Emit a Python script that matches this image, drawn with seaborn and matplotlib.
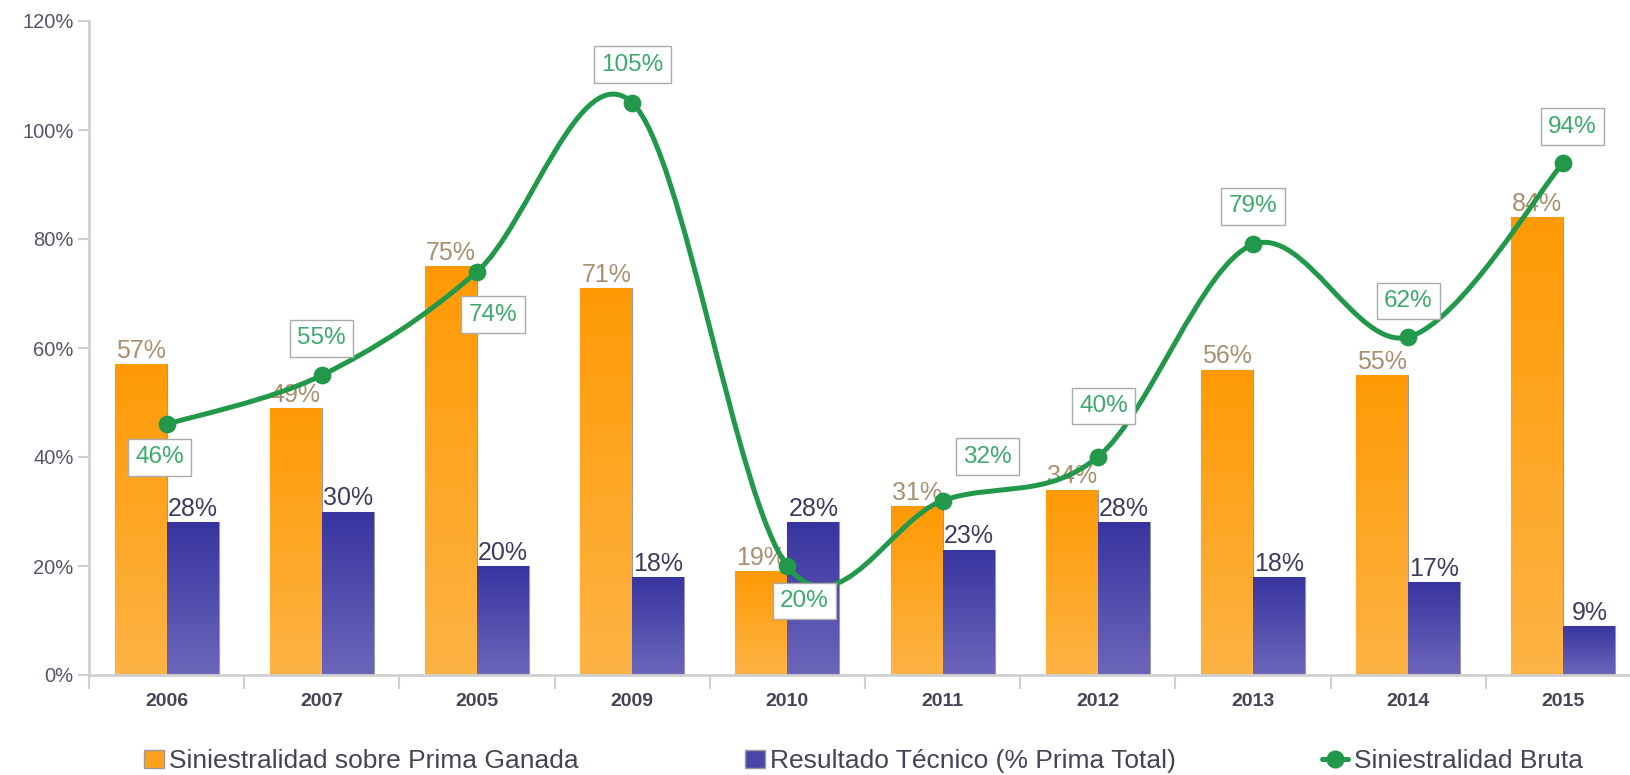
import matplotlib
matplotlib.use("Agg")
import matplotlib.pyplot as plt
from matplotlib.path import Path
from matplotlib.patches import PathPatch, Patch
from matplotlib.lines import Line2D
from matplotlib.colors import LinearSegmentedColormap
import seaborn as sns
import pandas as pd
import numpy as np

# datos
years = ["2006", "2007", "2005", "2009", "2010", "2011", "2012", "2013", "2014", "2015"]
siniestralidad_prima = [57, 49, 75, 71, 19, 31, 34, 56, 55, 84]
resultado_tecnico = [28, 30, 20, 18, 28, 23, 28, 18, 17, 9]
siniestralidad_bruta = [46, 55, 74, 105, 20, 32, 40, 79, 62, 94]

lbl_orange = "Siniestralidad sobre Prima Ganada"
lbl_navy = "Resultado Técnico (% Prima Total)"
lbl_green = "Siniestralidad Bruta"

# offsets (pixeles) de las etiquetas de la linea
green_offsets = [(-7, -33), (0, 37), (16, -43), (0, 38), (17, -35),
                 (45, 44), (6, 51), (0, 38), (0, 36), (9, 36)]

ORANGE = "#FDA11F"
NAVY = "#4A46A6"
GREEN = "#22984A"

sns.set_style("white")
plt.rcParams["font.family"] = ["Liberation Sans", "DejaVu Sans"]

df = pd.DataFrame({
    "year": years * 2,
    "value": siniestralidad_prima + resultado_tecnico,
    "serie": [lbl_orange] * len(years) + [lbl_navy] * len(years),
})

fig = plt.figure(figsize=(16.3, 7.75), dpi=100)
ax = fig.add_axes([89 / 1630, 100 / 775, 1552 / 1630, 654 / 775])

sns.barplot(data=df, x="year", y="value", hue="serie", palette=[ORANGE, NAVY],
            width=0.67, saturation=1, edgecolor="#9a9a9a", linewidth=0.8,
            legend=False, ax=ax, zorder=2)

# degradado vertical en las barras
grads = [LinearSegmentedColormap.from_list("o", ["#FDB445", "#FF9A05"]),
         LinearSegmentedColormap.from_list("n", ["#6C66BA", "#3835A0"])]
for cont, cmap in zip(ax.containers, grads):
    for bar in cont:
        x0, w, h = bar.get_x(), bar.get_width(), bar.get_height()
        im = ax.imshow(np.linspace(0, 1, 100).reshape(-1, 1), cmap=cmap, origin="lower",
                       extent=[x0, x0 + w, 0, h], aspect="auto", zorder=2.1)
        im.set_clip_path(bar)

for cont, color in zip(ax.containers, ["#A88F70", "#3C3C5E"]):
    ax.bar_label(cont, labels=[f"{v:.0f}%" for v in cont.datavalues],
                 color=color, fontsize=18, padding=1, zorder=3)

# linea suavizada (bezier tipo catmull-rom)
x = np.arange(len(years), dtype=float)
y = np.array(siniestralidad_bruta, dtype=float)
pts = np.column_stack([x, y])
ext = np.vstack([pts[0], pts, pts[-1]])
verts = [tuple(pts[0])]
codes = [Path.MOVETO]
for i in range(len(pts) - 1):
    p0, p1, p2, p3 = ext[i], ext[i + 1], ext[i + 2], ext[i + 3]
    c1 = p1 + (p2 - p0) / 6
    c2 = p2 - (p3 - p1) / 6
    verts += [tuple(c1), tuple(c2), tuple(p2)]
    codes += [Path.CURVE4] * 3
ax.add_patch(PathPatch(Path(verts, codes), facecolor="none", edgecolor=GREEN,
                       lw=3.6, zorder=4, capstyle="round"))
sns.scatterplot(x=x, y=y, color=GREEN, s=140, edgecolor=GREEN, zorder=5, ax=ax)

for xi, yi, (dx, dy) in zip(x, y, green_offsets):
    ax.annotate(f"{yi:.0f}%", (xi, yi), xytext=(dx, dy), textcoords="offset pixels",
                ha="center", va="center", fontsize=17.5, color="#3BAA6C", zorder=6,
                bbox=dict(boxstyle="square,pad=0.3", fc="white", ec="#AAAAAA", lw=1))

ax.set_xlim(-0.5, 9.5)
ax.set_ylim(0, 120)
ax.set_yticks(range(0, 121, 20))
ax.set_yticklabels([f"{v}%" for v in range(0, 121, 20)])
ax.set_xlabel("")
ax.set_ylabel("")
ax.set_xticks(np.arange(-0.5, 10, 1), minor=True)

sns.despine(ax=ax, top=True, right=True)
for s in ["left", "bottom"]:
    ax.spines[s].set_color("#D0D0D0")
    ax.spines[s].set_linewidth(2)
ax.tick_params(axis="y", labelsize=14.5, colors="#D0D0D0", labelcolor="#55556A",
               length=8, width=1.5, direction="out", left=True, pad=3)
ax.tick_params(axis="x", which="major", length=0, labelsize=14, labelcolor="#444455", pad=13)
ax.tick_params(axis="x", which="minor", length=10, width=1.5, color="#D0D0D0", bottom=True)
for t in ax.get_xticklabels():
    t.set_fontweight("bold")

# leyenda
handles = [
    (Patch(facecolor=ORANGE, edgecolor="#9a9a9a"), lbl_orange, 144),
    (Patch(facecolor=NAVY, edgecolor="#9a9a9a"), lbl_navy, 745),
    (Line2D([], [], color=GREEN, lw=3.6, marker="o", markersize=12), lbl_green, 1322),
]
for h, lab, px in handles:
    fig.legend([h], [lab], loc="center left", bbox_to_anchor=(px / 1630, 14 / 775),
               frameon=False, fontsize=19, handlelength=0.75 if isinstance(h, Patch) else 1.0,
               handletextpad=0.2, borderaxespad=0, borderpad=0, labelcolor="#444455")

fig.savefig("out.png", dpi=100)
